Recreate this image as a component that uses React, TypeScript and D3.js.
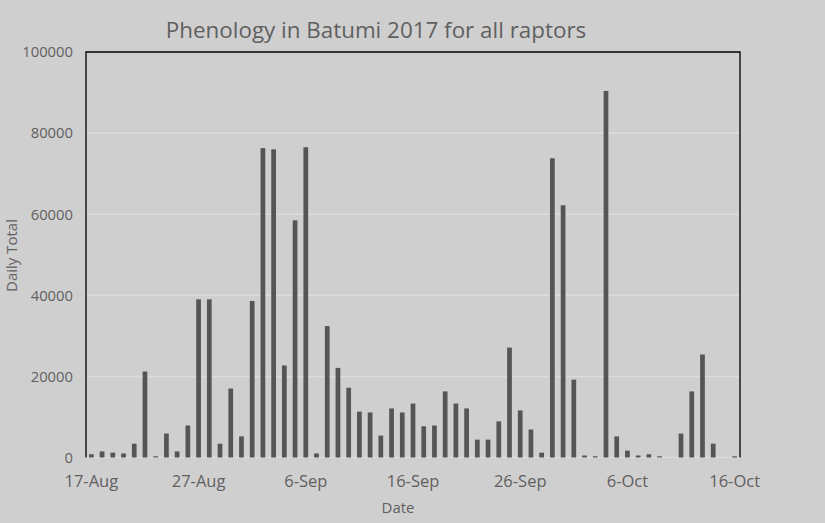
import React from "react";
import * as d3 from "d3";

const title = "Phenology in Batumi 2017 for all raptors";
const startDate = new Date(2017, 7, 17);
const augValues = [800, 1500, 1200, 1000, 3400, 21200, 300, 5900, 1500, 7900, 39000, 39000, 3400, 17000, 5200];
const sepValues = [38600, 76300, 76000, 22700, 58500, 76500, 1000, 32400, 22100, 17200, 11300, 11100, 5400, 12100, 11100, 13300, 7700, 7900, 16300, 13300, 12100, 4400, 4400, 8900, 27100, 11600, 6900, 1200, 73800, 62200];
const octValues = [19200, 500, 300, 90400, 5200, 1700, 500, 800, 300, 0, 5900, 16300, 25400, 3400, 0, 300];
const yTicks = [0, 20000, 40000, 60000, 80000, 100000];
const xTickEvery = 10;

const values = [...augValues, ...sepValues, ...octValues];
const dates = values.map((_, i) => d3.timeDay.offset(startDate, i));
const data = values.map((v, i) => ({ date: dates[i], value: v }));

const W = 825, H = 523;
const M = { left: 86, right: 740, top: 52, bottom: 457.5 };
const FONT = "'Open Sans', 'Noto Sans', sans-serif";
const TEXT = "#606060";

export default function App() {
  const keys = dates.map((d) => d3.timeFormat("%Y-%m-%d")(d));
  const x = d3.scaleBand<string>().domain(keys).range([M.left, M.right]).paddingInner(0.56).paddingOuter(0.28);
  const y = d3.scaleLinear().domain([0, 100000]).range([M.bottom, M.top]);
  const fmt = d3.timeFormat("%-d-%b");
  const cx = (d: Date) => (x(d3.timeFormat("%Y-%m-%d")(d)) as number) + x.bandwidth() / 2;
  const xTicks = dates.filter((_, i) => i % xTickEvery === 0);

  return (
    <div style={{ position: "fixed", left: 0, top: 0, width: W, height: H }}>
      <svg width={W} height={H} style={{ display: "block", background: "#d0cfd0" }} fontFamily={FONT}>
        <rect x={0} y={0} width={W} height={H} fill="#d0cfd0" />
        {yTicks.filter((t) => t < 100000).map((t) => (
          <line key={t} x1={M.left} x2={M.right} y1={y(t)} y2={y(t)} stroke="#dcdcdc" strokeWidth={1.5} />
        ))}
        {data.map((d, i) => (
          d.value > 0 ? (
            <rect
              key={i}
              x={x(keys[i]) as number}
              y={y(d.value)}
              width={x.bandwidth()}
              height={M.bottom - y(d.value)}
              fill="#555555"
            />
          ) : null
        ))}
        <path
          d={`M${M.left},${M.bottom} V${M.top} H${M.right} V${M.bottom}`}
          fill="none"
          stroke="#000"
          strokeWidth={1.3}
        />
        {yTicks.map((t) => (
          <text key={t} x={73} y={y(t)} dy="0.36em" textAnchor="end" fontSize={14.8} fill={TEXT}>
            {t}
          </text>
        ))}
        {xTicks.map((d, i) => (
          <text key={i} x={cx(d)} y={487} textAnchor="middle" fontSize={16.5} fill={TEXT}>
            {fmt(d)}
          </text>
        ))}
        <text x={398} y={513} textAnchor="middle" fontSize={15} fill={TEXT}>Date</text>
        <text transform="translate(17,255.5) rotate(-90)" textAnchor="middle" fontSize={15} fill={TEXT}>Daily Total</text>
        <text x={376} y={38} textAnchor="middle" fontSize={22.4} fill={TEXT}>{title}</text>
      </svg>
    </div>
  );
}
